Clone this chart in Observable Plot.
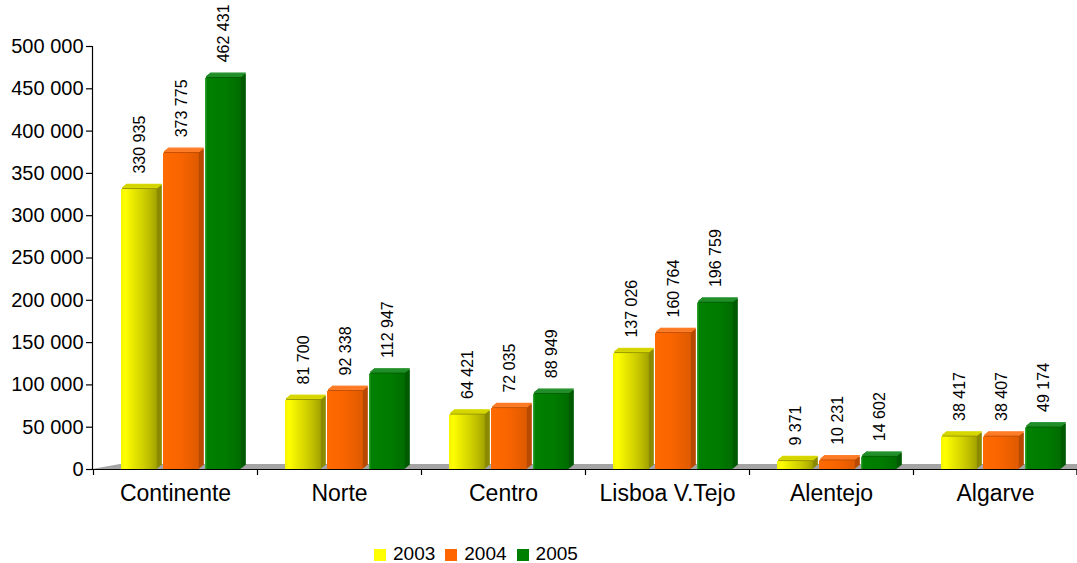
<!DOCTYPE html>
<html>
<head>
<meta charset="utf-8">
<script src="https://cdn.jsdelivr.net/npm/d3@7"></script>
<script src="https://cdn.jsdelivr.net/npm/@observablehq/plot@0.6"></script>
<style>
  body { margin: 0; background: #fff; font-family: "Liberation Sans", Arial, sans-serif; }
  #chart { position: relative; width: 1077px; height: 563px; overflow: hidden; }
  #legend { position: absolute; top: 546px; left: 374px; display: flex; align-items: center;
            font-size: 19px; line-height: 16px; color: #000; font-family: "Liberation Sans", Arial, sans-serif; }
  #legend .item { display: flex; align-items: center; margin-right: 10px; }
  #legend .sw { width: 12px; height: 12px; margin-right: 7px; margin-top: 2px; }
</style>
</head>
<body>
<svg width="0" height="0" style="position:absolute">
  <defs>
    <linearGradient id="front2003" x1="0" x2="1" y1="0" y2="0">
      <stop offset="0" stop-color="#f4f400"/>
      <stop offset="0.12" stop-color="#ffff00"/>
      <stop offset="0.3" stop-color="#ecec00"/>
      <stop offset="0.55" stop-color="#d6d600"/>
      <stop offset="0.8" stop-color="#bcbc00"/>
      <stop offset="1" stop-color="#a2a200"/>
    </linearGradient>
    <linearGradient id="front2004" x1="0" x2="1" y1="0" y2="0">
      <stop offset="0" stop-color="#ff6a00"/>
      <stop offset="0.5" stop-color="#f86400"/>
      <stop offset="1" stop-color="#de5a00"/>
    </linearGradient>
    <linearGradient id="front2005" x1="0" x2="1" y1="0" y2="0">
      <stop offset="0" stop-color="#3aa83a"/>
      <stop offset="0.06" stop-color="#008000"/>
      <stop offset="0.6" stop-color="#007b00"/>
      <stop offset="1" stop-color="#006c00"/>
    </linearGradient>
  </defs>
</svg>
<div id="chart"><div id="legend"></div></div>
<script>
// ---- data ----
const categories = ["Continente", "Norte", "Centro", "Lisboa V.Tejo", "Alentejo", "Algarve"];
const years = ["2003", "2004", "2005"];
const values2003 = [330935, 81700, 64421, 137026, 9371, 38417];
const values2004 = [373775, 92338, 72035, 160764, 10231, 38407];
const values2005 = [462431, 112947, 88949, 196759, 14602, 49174];
const yTicks = [0, 50000, 100000, 150000, 200000, 250000, 300000, 350000, 400000, 450000, 500000];
const legendColors = ["#ffff00", "#ff6600", "#008000"];

// ---- styling ----
const sideColors = ["#8a8a00", "#b84a00", "#005a00"];
const topColors = ["#d8d800", "#ff7d28", "#22902a"];
const W = 1077, H = 525, ML = 92, MR = 0, MT = 46, MB = 56;
const geom = {offset: 28, slot: 42, front: 36, depth: 5, rise: 4};
const bw = (W - ML - MR) / categories.length;

const seriesValues = [values2003, values2004, values2005];
const rows = categories.flatMap((c, i) => years.map((y, j) => ({category: c, year: y, j, value: seriesValues[j][i]})));
const fmt = d => d3.format(",")(d).replace(/,/g, " ");

function insets(j) {
  const l = geom.offset + geom.slot * j;
  return {insetLeft: l, insetRight: bw - l - geom.front};
}

// decorations: floor, axis lines, category boundary ticks
function decor(index, scales, values, dims) {
  const {width, marginLeft, marginRight} = dims;
  const x = scales.x, y = scales.y;
  const y0 = y(0), yTop = y(d3.max(yTicks));
  const g = d3.create("svg:g");
  g.append("path")
    .attr("d", `M${marginLeft},${y0} L${marginLeft + geom.offset},${y0 - 5} L${width - marginRight},${y0 - 5} L${width - marginRight},${y0} Z`)
    .attr("fill", "#a4a4a4");
  g.append("line").attr("x1", marginLeft).attr("x2", width - marginRight).attr("y1", y0 + 0.5).attr("y2", y0 + 0.5)
    .attr("stroke", "#000").attr("stroke-width", 1.2);
  g.append("line").attr("x1", marginLeft + 0.5).attr("x2", marginLeft + 0.5).attr("y1", yTop).attr("y2", y0 + 0.5)
    .attr("stroke", "#000").attr("stroke-width", 1.2);
  const edges = categories.map(c => x(c)).concat([width - marginRight]);
  for (const e of edges) {
    const xe = Math.min(e, width - marginRight - 0.6) + 0.5;
    g.append("line").attr("x1", xe).attr("x2", xe).attr("y1", y0).attr("y2", y0 + 6)
      .attr("stroke", "#000").attr("stroke-width", 1.2);
  }
  return g.node();
}

const marks = [decor];
years.forEach((yr, j) => {
  const data = rows.filter(d => d.j === j);
  for (let k = geom.depth; k >= 1; k--) {
    const dx = k, dy = -k * geom.rise / geom.depth;
    marks.push(Plot.barY(data, {x: "category", y: "value", ...insets(j), dx, dy, fill: sideColors[j]}));
    marks.push(Plot.barY(data, {x: "category", y1: "value", y2: "value", ...insets(j), insetTop: -1.3, dx, dy, fill: topColors[j]}));
  }
  marks.push(Plot.barY(data, {x: "category", y: "value", ...insets(j), fill: `url(#front${yr})`}));
});
years.forEach((yr, j) => {
  const data = rows.filter(d => d.j === j);
  const center = geom.offset + geom.slot * j + geom.front / 2;
  marks.push(Plot.text(data, {
    x: "category", y: "value", text: d => fmt(d.value),
    rotate: -90, textAnchor: "start", lineAnchor: "middle",
    dx: center - bw / 2, dy: -16,
    fontSize: 16, fontFamily: "'Liberation Sans', Arial, sans-serif", fill: "#000"
  }));
});
marks.push(Plot.axisY({ticks: yTicks, tickSize: 6, tickPadding: 3, tickFormat: fmt, fontSize: 20, label: null, stroke: "#000", strokeWidth: 1.2}));
marks.push(Plot.axisX({tickSize: 0, tickPadding: 15, fontSize: 23, label: null}));

const chart = Plot.plot({
  width: W, height: H,
  marginLeft: ML, marginRight: MR, marginTop: MT, marginBottom: MB,
  x: {domain: categories, padding: 0, label: null},
  y: {domain: [0, 500000], label: null},
  style: {fontFamily: "'Liberation Sans', Arial, sans-serif", fontSize: "19px", color: "#000", background: "#fff", overflow: "visible"},
  marks
});
const host = document.getElementById("chart");
host.insertBefore(chart, host.firstChild);

const legend = document.getElementById("legend");
years.forEach((yr, j) => {
  const item = document.createElement("div");
  item.className = "item";
  const sw = document.createElement("div");
  sw.className = "sw";
  sw.style.background = legendColors[j];
  const t = document.createElement("span");
  t.textContent = yr;
  item.appendChild(sw); item.appendChild(t);
  legend.appendChild(item);
});
</script>
</body>
</html>
